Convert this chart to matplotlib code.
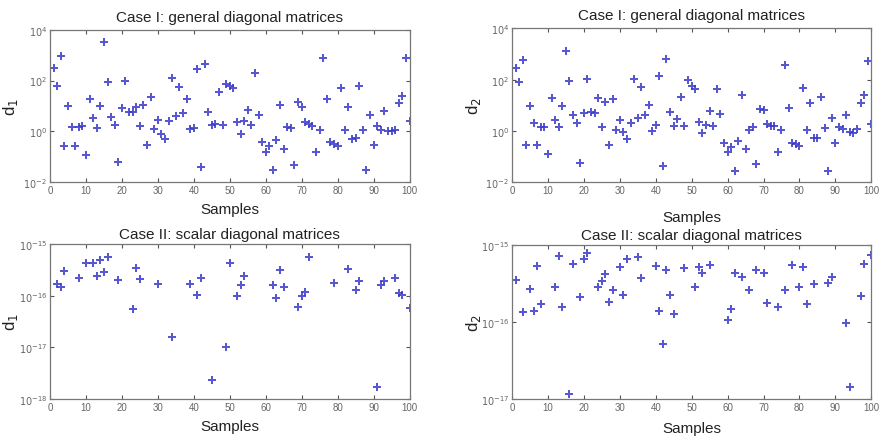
import matplotlib
matplotlib.use("Agg")
import matplotlib.pyplot as plt
import numpy as np

plt.rcParams['font.family'] = ['Liberation Sans', 'DejaVu Sans']

# ---- data (log10 values) ----
case1_d1_log = [2.49, 1.77, 2.95, -0.57, 1.01, 0.19, -0.56, 0.19, 0.21, -0.91,
                1.27, 0.53, 0.12, 0.99, 3.53, 1.94, 0.55, 0.25, -1.20, 0.92,
                2.00, 0.78, 0.78, 0.97, 0.21, 1.04, -0.55, 1.37, 0.11, 0.44,
                -0.09, -0.31, 0.40, 2.11, 0.62, 1.75, 0.71, 1.27, 0.11, 0.13,
                2.45, -1.41, 2.65, 0.78, 0.25, 0.30, 1.54, 0.26, 1.85, 1.77,
                1.69, 0.37, -0.12, 0.40, 0.84, 0.25, 2.31, 0.64, -0.43, -0.82,
                -0.59, -1.53, -0.34, 1.04, -0.68, 0.19, 0.13, -1.33, 1.17, 0.95,
                0.36, 0.30, 0.22, -0.82, 0.05, 2.89, 1.27, -0.40, -0.51, -0.59,
                1.69, 0.07, 0.97, -0.30, -0.26, 1.80, 0.04, -1.53, 0.66, -0.52,
                0.22, 0.07, 0.82, 0.03, 0.00, 0.05, 1.13, 1.39, 2.89, 0.41]

case1_d2_log = [2.44, 1.92, 2.77, -0.56, 0.99, 0.31, -0.55, 0.16, 0.16, -0.88,
                1.27, 0.42, 0.16, 0.99, 3.10, 1.95, 0.64, 0.30, -1.23, 0.69,
                2.03, 0.75, 0.71, 1.27, 0.17, 1.12, -0.55, 1.25, 0.05, 0.42,
                -0.05, -0.31, 0.30, 2.01, 0.52, 1.73, 0.62, 1.00, -0.01, 0.23,
                2.14, -1.35, 2.82, 0.73, 0.18, 0.45, 1.34, 0.21, 1.99, 1.77,
                1.64, 0.36, -0.08, 0.25, 0.78, 0.18, 1.64, 0.65, -0.47, -0.82,
                -0.61, -1.55, -0.38, 1.42, -0.71, 0.05, 0.17, -1.30, 0.87, 0.81,
                0.27, 0.18, 0.21, -0.81, 0.04, 2.58, 0.91, -0.45, -0.51, -0.57,
                1.69, 0.03, 1.09, -0.27, -0.27, 1.34, 0.10, -1.55, 0.52, -0.47,
                0.16, 0.09, 0.62, -0.05, -0.09, 0.08, 1.08, 1.39, 2.71, 0.26]

case2_d1_x = [2, 3, 4, 8, 10, 12, 13, 14, 15, 16, 19, 23, 24, 25, 30, 34, 39, 41,
              42, 45, 49, 50, 52, 53, 54, 62, 63, 64, 65, 69, 70, 71, 72, 79, 83,
              85, 86, 91, 92, 93, 96, 97, 98, 100]
case2_d1_log = [-15.78, -15.83, -15.52, -15.65, -15.36, -15.36, -15.61, -15.30,
                -15.54, -15.25, -15.69, -16.26, -15.47, -15.68, -15.78, -16.80,
                -15.77, -15.98, -15.66, -17.63, -17.00, -15.36, -16.01, -15.79,
                -15.61, -15.80, -16.04, -15.50, -15.83, -16.21, -16.00, -15.92,
                -15.25, -15.76, -15.49, -15.89, -15.71, -17.76, -15.80, -15.71,
                -15.66, -15.95, -15.98, -16.23]

case2_d2_x = [1, 3, 5, 6, 7, 8, 12, 13, 14, 16, 17, 19, 20, 21, 24, 25, 26, 27, 28,
              30, 31, 32, 35, 36, 40, 41, 42, 43, 44, 45, 48, 51, 52, 53, 55, 60,
              61, 62, 64, 66, 68, 70, 71, 74, 76, 78, 80, 81, 82, 84, 88, 89, 93,
              94, 97, 98, 100]
case2_d2_log = [-15.45, -15.87, -15.57, -15.86, -15.27, -15.77, -15.55, -15.14,
                -15.81, -16.94, -15.25, -15.67, -15.18, -15.11, -15.55, -15.47,
                -15.38, -15.74, -15.58, -15.29, -15.65, -15.18, -15.15, -15.43,
                -15.27, -15.86, -16.29, -15.33, -15.65, -15.89, -15.30, -15.55,
                -15.29, -15.37, -15.26, -15.97, -15.83, -15.36, -15.42, -15.58,
                -15.32, -15.36, -15.75, -15.80, -15.59, -15.26, -15.55, -15.29,
                -15.77, -15.51, -15.49, -15.41, -16.01, -16.84, -15.66, -15.25,
                -15.13]

samples = list(range(1, 101))
xticks = [0, 10, 20, 30, 40, 50, 60, 70, 80, 90, 100]

W, H = 882, 439
fig = plt.figure(figsize=(W / 100, H / 100), dpi=100)

def make_ax(l, r, t, b):
    return fig.add_axes([l / W, 1 - b / H, (r - l) / W, (b - t) / H])

grey = '#555555'
mcol = '#3a3ac8'

def style(ax, box, title, ylab, yticks, ylim, title_gap, xlab_pad, ylab_x):
    l, r, t, b = box
    ax.set_yscale('log')
    ax.set_xlim(0, 100)
    ax.set_ylim(*ylim)
    ax.set_xticks(xticks)
    ax.set_xticklabels([str(v) for v in xticks])
    ax.set_yticks(yticks)
    ax.set_yticklabels([r'$10^{%d}$' % int(round(np.log10(v))) for v in yticks])
    ax.minorticks_off()
    ax.tick_params(direction='in', top=True, right=True, length=3, width=0.8,
                   colors=grey, labelsize=7, labelcolor='#666666', pad=2)
    for s in ax.spines.values():
        s.set_color('#777777')
        s.set_linewidth(0.9)
    ax.set_title(title, fontsize=11, color='#222222', pad=0,
                 y=1 + title_gap / (b - t))
    ax.set_xlabel('Samples', fontsize=11, color='#222222', labelpad=xlab_pad)
    ax.set_ylabel(ylab, fontsize=12, color='#222222')
    ax.yaxis.set_label_coords((ylab_x - l) / (r - l), 0.5)

panels = [
    ((50, 409.5, 30.7, 183.3), samples, case1_d1_log, 'Case I: general diagonal matrices', r'd$_1$',
     [1e-2, 1e0, 1e2, 1e4], (1e-2, 1e4), 9, 5, 20),
    ((512, 871.3, 29.3, 183.3), samples, case1_d2_log, 'Case I: general diagonal matrices', r'd$_2$',
     [1e-2, 1e0, 1e2, 1e4], (1e-2, 1e4), 9, 11, 483),
    ((50, 409.5, 245, 400), case2_d1_x, case2_d1_log, 'Case II: scalar diagonal matrices', r'd$_1$',
     [1e-18, 1e-17, 1e-16, 1e-15], (1e-18, 1e-15), 6, 5, 20),
    ((512, 871.3, 246, 400), case2_d2_x, case2_d2_log, 'Case II: scalar diagonal matrices', r'd$_2$',
     [1e-17, 1e-16, 1e-15], (1e-17, 1e-15), 6, 7, 483),
]

for box, xs, logs, title, ylab, yt, yl, tg, xp, yx in panels:
    ax = make_ax(*box)
    ax.plot(xs, [10.0 ** v for v in logs], linestyle='none', marker='P',
            markersize=5.5, color=mcol, markeredgewidth=0, alpha=0.85)
    style(ax, box, title, ylab, yt, yl, tg, xp, yx)

fig.savefig('out.png', dpi=100)
